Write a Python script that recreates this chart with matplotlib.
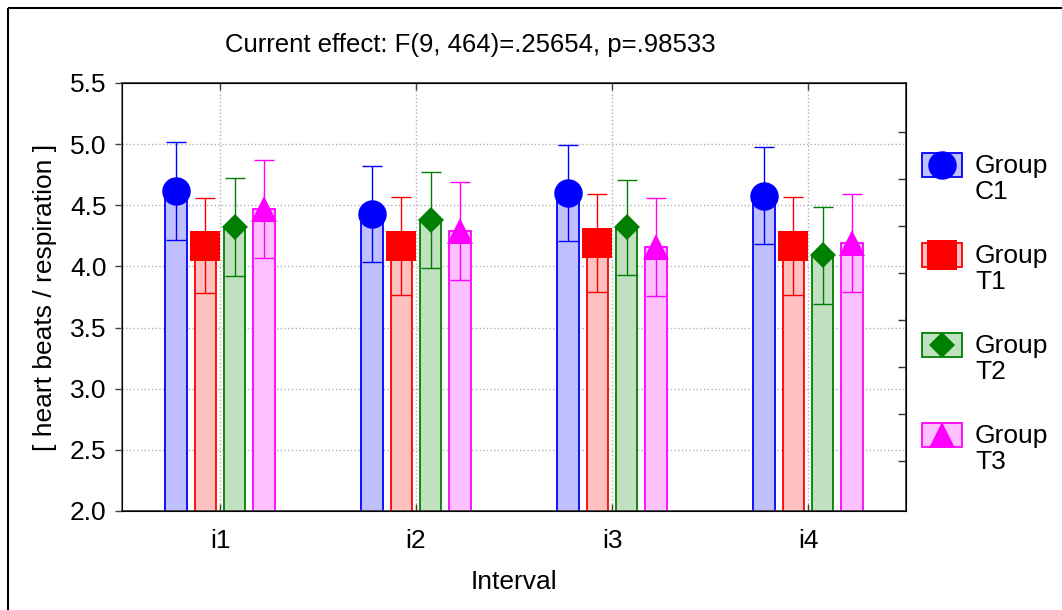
import numpy as np
import matplotlib
matplotlib.use('Agg')
import matplotlib.pyplot as plt
from matplotlib.patches import Rectangle

plt.rcParams['font.family'] = ['Liberation Sans', 'DejaVu Sans']

# data
intervals = ['i1', 'i2', 'i3', 'i4']
groups = ['C1', 'T1', 'T2', 'T3']
mean_c1 = [4.62, 4.43, 4.60, 4.58]
mean_t1 = [4.17, 4.17, 4.19, 4.17]
mean_t2 = [4.32, 4.38, 4.32, 4.09]
mean_t3 = [4.47, 4.29, 4.16, 4.19]
ci_c1 = [0.40, 0.39, 0.39, 0.40]
ci_t1 = [0.39, 0.40, 0.40, 0.40]
ci_t2 = [0.40, 0.39, 0.39, 0.40]
ci_t3 = [0.40, 0.40, 0.40, 0.40]

means = [mean_c1, mean_t1, mean_t2, mean_t3]
cis = [ci_c1, ci_t1, ci_t2, ci_t3]

edge_colors = ['#0000ff', '#ff0000', '#008000', '#ff00ff']
fill_colors = ['#c0c0ff', '#ffc0c0', '#c0e0c0', '#ffc0ff']
markers = ['o', 's', 'D', '^']
msizes = [20.5, 21, 13.6, 19]
offsets = [-0.225, -0.075, 0.075, 0.225]
bar_w = 0.11

W, H = 1062, 610
fig = plt.figure(figsize=(W / 100, H / 100), dpi=100)
ax = fig.add_axes([122 / W, 1 - 511 / H, 784 / W, 428 / H])

x = np.arange(len(intervals))
for i in range(len(groups)):
    xs = x + offsets[i]
    ax.bar(xs, means[i], width=bar_w, bottom=0, color=fill_colors[i],
           edgecolor=edge_colors[i], linewidth=1.3, zorder=2)
    ax.errorbar(xs, means[i], yerr=cis[i], fmt='none', ecolor=edge_colors[i],
                elinewidth=1.0, capsize=7.5, capthick=1.0, zorder=3)
    ax.plot(xs, means[i], linestyle='none', marker=markers[i], markersize=msizes[i],
            color=edge_colors[i], markeredgewidth=0, zorder=4)

ax.set_xlim(-0.5, 3.5)
ax.set_ylim(2.0, 5.5)
ax.set_yticks(np.arange(2.0, 5.51, 0.5))
ax.set_yticklabels([f'{v:.1f}' for v in np.arange(2.0, 5.51, 0.5)])
ax.set_xticks(x)
ax.set_xticklabels(intervals)
ax.grid(True, linestyle=':', color='#b0b0b0', linewidth=1.0, zorder=0)
ax.set_axisbelow(True)

ax.tick_params(axis='y', direction='out', length=5, width=1, pad=6,
               labelsize=19, color='#404040')
ax.tick_params(axis='x', direction='in', length=5, width=1, pad=13,
               labelsize=19, top=True, color='#404040')
for s in ax.spines.values():
    s.set_color('#303030')
    s.set_linewidth(1.2)
ax.spines['left'].set_color('#707070')

ax.set_ylabel('[ heart beats / respiration ]', fontsize=19)
ax.yaxis.set_label_coords(-0.083, 0.5)
ax.set_xlabel('Interval', fontsize=19)
ax.xaxis.set_label_coords(0.5, -0.139)

# inward ticks on the right spine
ax2 = ax.twinx()
ax2.set_ylim(0, 1)
ax2.set_yticks(0.117 + 0.1099 * np.arange(8))
ax2.tick_params(axis='y', direction='in', length=6, width=1, labelright=False,
                color='#303030')

fig.text(470 / W, 1 - 45 / H, 'Current effect: F(9, 464)=.25654, p=.98533',
         ha='center', va='center', fontsize=18.5)

# legend drawn by hand on an overlay
lax = fig.add_axes([0, 0, 1, 1], zorder=5)
lax.set_xlim(0, W)
lax.set_ylim(H, 0)
lax.axis('off')
leg_y = [165, 255, 345, 435]
for i, g in enumerate(groups):
    y = leg_y[i]
    lax.add_patch(Rectangle((922, y - 12), 40, 24, facecolor=fill_colors[i],
                            edgecolor=edge_colors[i], linewidth=1.3))
    lax.plot([942], [y], linestyle='none', marker=markers[i], markersize=msizes[i],
             color=edge_colors[i], markeredgewidth=0)
    lax.text(975, y + 14, 'Group\n' + g, ha='left', va='center', fontsize=19,
             linespacing=1.1)

# outer frame
lax.add_patch(Rectangle((8, 8), W + 20, H + 20, fill=False, edgecolor='black',
                        linewidth=1.5, clip_on=False))

fig.savefig('out.png', dpi=100)
